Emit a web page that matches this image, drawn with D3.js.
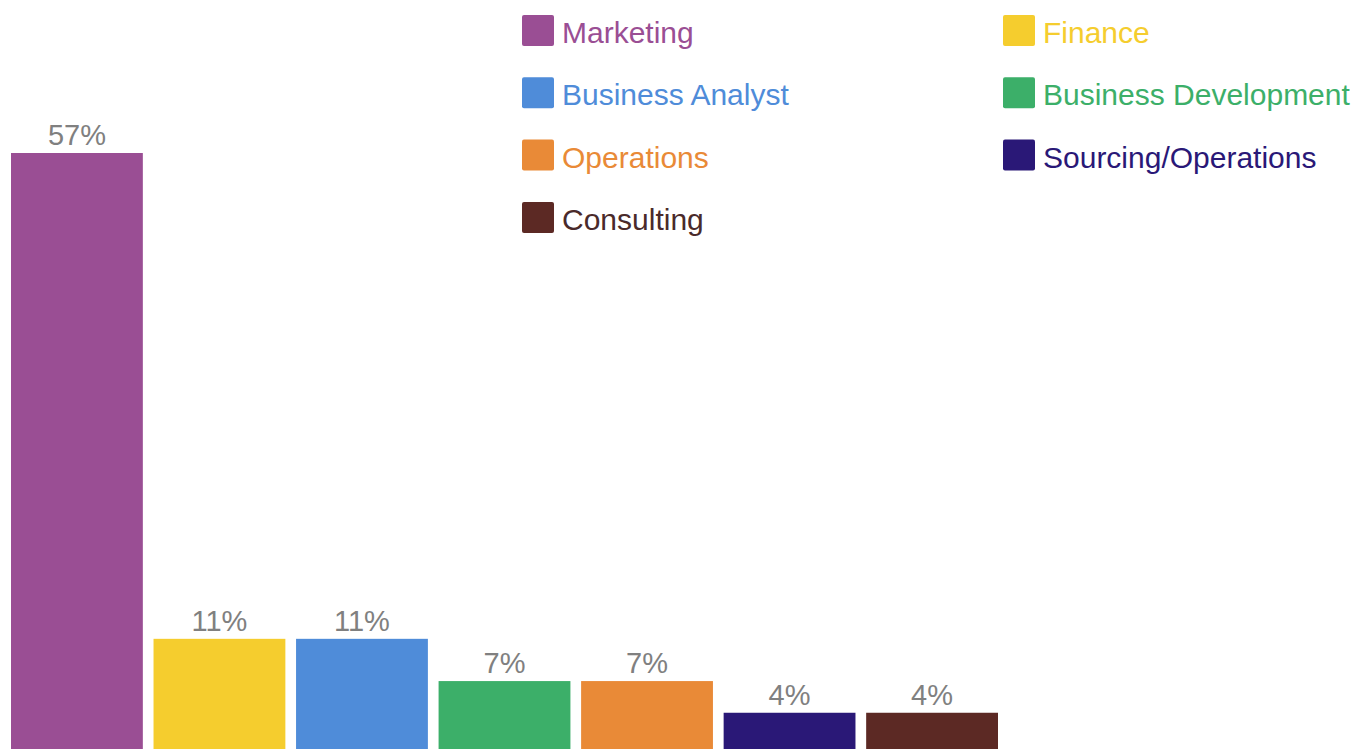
<!DOCTYPE html>
<html lang="en">
<head>
    <meta charset="UTF-8">
    <title>Roles</title>
    <script src="https://cdnjs.cloudflare.com/ajax/libs/d3/7.9.0/d3.min.js"></script>
    <style>
        html, body { margin: 0; padding: 0; background: #fff; overflow: hidden; }
        svg { display: block; font-family: "Liberation Sans", Arial, sans-serif; }
    </style>
</head>
<body>
    <svg width="1357" height="749"></svg>
    <script>
        const categories = ["Marketing", "Finance", "Business Analyst", "Business Development", "Operations", "Sourcing/Operations", "Consulting"];
        const values = [57, 11, 11, 7, 7, 4, 4];
        const colors = ["#9a4e94", "#f5cd2e", "#4f8cd9", "#3caf69", "#e98a37", "#2a1877", "#5c2924"];

        const svg = d3.select("svg");

        // baseline sits a little below the bottom edge of the picture
        const x = d3.scaleBand()
            .domain(categories)
            .range([11, 998])
            .paddingInner(0.075)
            .paddingOuter(0);

        const y = d3.scaleLinear()
            .domain([0, 57])
            .range([755, 153]);

        svg.selectAll(".bar")
            .data(categories)
            .enter()
            .append("rect")
            .attr("class", "bar")
            .attr("x", d => x(d))
            .attr("y", (d, i) => y(values[i]))
            .attr("width", x.bandwidth())
            .attr("height", (d, i) => y(0) - y(values[i]))
            .attr("fill", (d, i) => colors[i]);

        svg.selectAll(".value")
            .data(categories)
            .enter()
            .append("text")
            .attr("class", "value")
            .attr("x", d => x(d) + x.bandwidth() / 2)
            .attr("y", (d, i) => y(values[i]) - 8)
            .attr("text-anchor", "middle")
            .attr("font-size", "29px")
            .attr("fill", "#808080")
            .text((d, i) => values[i] + "%");

        // legend: two columns, filled row by row
        const legend = svg.selectAll(".legend")
            .data(categories)
            .enter()
            .append("g")
            .attr("class", "legend")
            .attr("transform", (d, i) => `translate(${i % 2 === 0 ? 522 : 1003}, ${15 + Math.floor(i / 2) * 62.3})`);

        legend.append("rect")
            .attr("width", 32)
            .attr("height", 31)
            .attr("rx", 2)
            .attr("fill", (d, i) => colors[i]);

        legend.append("text")
            .attr("x", 40)
            .attr("y", 28)
            .attr("font-size", "30px")
            .attr("fill", (d, i) => i === 6 ? "#4a2a2a" : colors[i])
            .text(d => d);
    </script>
</body>
</html>
